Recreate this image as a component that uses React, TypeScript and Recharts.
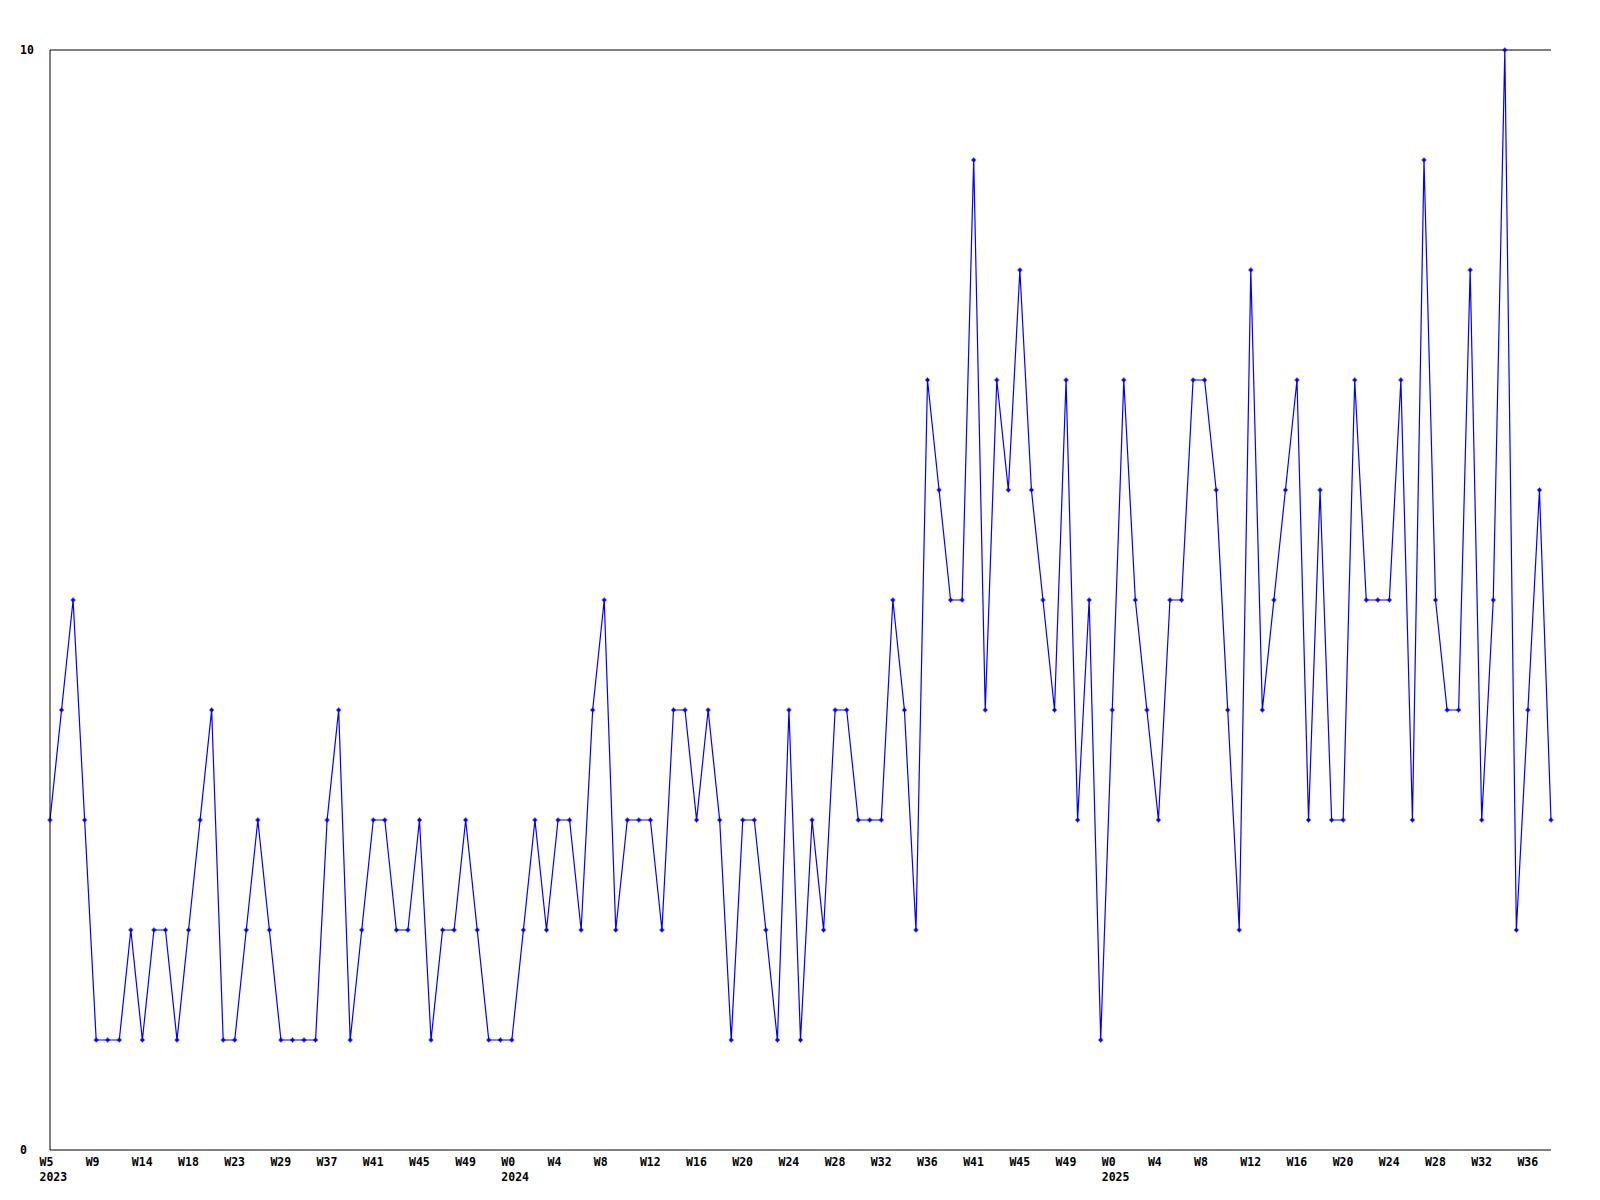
import React from "react";
import { LineChart, Line, XAxis, YAxis, ReferenceLine } from "recharts";

// week labels per year (gaps in 2023 are real, the weekly export skipped some weeks)
const weeks2023 = [
  "W5", "W6", "W7", "W8", "W9", "W10", "W11", "W13", "W14", "W15",
  "W16", "W17", "W18", "W19", "W20", "W21", "W23", "W24", "W26", "W27",
  "W29", "W31", "W33", "W35", "W37", "W38", "W39", "W40", "W41", "W42",
  "W43", "W44", "W45", "W46", "W47", "W48", "W49", "W50", "W51", "W52",
];
const weeks2024 = [
  "W0", "W1", "W2", "W3", "W4", "W5", "W6", "W7", "W8", "W9",
  "W10", "W11", "W12", "W13", "W14", "W15", "W16", "W17", "W18", "W19",
  "W20", "W21", "W22", "W23", "W24", "W25", "W26", "W27", "W28", "W29",
  "W30", "W31", "W32", "W33", "W34", "W35", "W36", "W37", "W38", "W40",
  "W41", "W42", "W43", "W44", "W45", "W46", "W47", "W48", "W49", "W50",
  "W51", "W52",
];
const weeks2025 = [
  "W0", "W1", "W2", "W3", "W4", "W5", "W6", "W7", "W8", "W9",
  "W10", "W11", "W12", "W13", "W14", "W15", "W16", "W17", "W18", "W19",
  "W20", "W21", "W22", "W23", "W24", "W25", "W26", "W27", "W28", "W29",
  "W30", "W31", "W32", "W33", "W34", "W35", "W36", "W37", "W38",
];

const values2023 = [
  3, 4, 5, 3, 1, 1, 1, 2, 1, 2, 2, 1, 2, 3, 4, 1, 1, 2, 3, 2,
  1, 1, 1, 1, 3, 4, 1, 2, 3, 3, 2, 2, 3, 1, 2, 2, 3, 2, 1, 1,
];
const values2024 = [
  1, 2, 3, 2, 3, 3, 2, 4, 5, 2, 3, 3, 3, 2, 4, 4, 3, 4, 3, 1,
  3, 3, 2, 1, 4, 1, 3, 2, 4, 4, 3, 3, 3, 5, 4, 2, 7, 6, 5, 5,
  9, 4, 7, 6, 8, 6, 5, 4, 7, 3, 5, 1,
];
const values2025 = [
  4, 7, 5, 4, 3, 5, 5, 7, 7, 6, 4, 2, 8, 4, 5, 6, 7, 3, 6, 3,
  3, 7, 5, 5, 5, 7, 3, 9, 5, 4, 4, 8, 3, 5, 10, 2, 4, 6, 3,
];

const yTicks = [0, 10];

const years: [string, string[], number[]][] = [
  ["2023", weeks2023, values2023],
  ["2024", weeks2024, values2024],
  ["2025", weeks2025, values2025],
];

const data = years.flatMap(([year, weeks, vals]) =>
  weeks.map((w, i) => ({ key: `${year}-${w}`, year, week: w, first: i === 0, value: vals[i] }))
);
const byKey = new Map(data.map((d) => [d.key, d]));

const FONT = "'DejaVu Sans Mono', monospace";
const BLUE = "#0000ff";

const WeekTick = (props: any) => {
  const { x, y, payload } = props;
  const row = byKey.get(payload.value);
  if (!row) return null;
  return (
    <g>
      <text x={x - 10.5} y={y + 16} fontFamily={FONT} fontWeight="bold" fontSize={11.5} fill="#000" textAnchor="start">
        {row.week}
      </text>
      {row.first && (
        <text x={x - 10.5} y={y + 31} fontFamily={FONT} fontWeight="bold" fontSize={11.5} fill="#000" textAnchor="start">
          {row.year}
        </text>
      )}
    </g>
  );
};

const ValueTick = (props: any) => {
  const { x, y, payload } = props;
  return (
    <text x={x - 30} y={y + 4} fontFamily={FONT} fontWeight="bold" fontSize={11.5} fill="#000" textAnchor="start">
      {payload.value}
    </text>
  );
};

const Marker = (props: any) => {
  const { cx, cy, index } = props;
  if (cx == null || cy == null) return <g key={index} />;
  const d =
    `M${cx - 2.5},${cy - 0.5}h5v1h-5z` +
    `M${cx - 0.5},${cy - 2.5}h1v5h-1z` +
    `M${cx - 1.5},${cy - 1.5}h3v3h-3z`;
  return <path key={index} d={d} fill={BLUE} />;
};

export default function App() {
  return (
    <div style={{ position: "absolute", left: 0, top: 0, width: 1600, height: 1200, background: "#fff" }}>
      <LineChart width={1600} height={1200} data={data} margin={{ top: 50, right: 49, left: 0, bottom: 0 }}>
        <XAxis
          dataKey="key"
          interval={3}
          height={50}
          tickLine={false}
          tickSize={0}
          tickMargin={0}
          axisLine={{ stroke: "#000" }}
          tick={<WeekTick />}
        />
        <YAxis
          type="number"
          domain={[0, 10]}
          ticks={yTicks}
          width={50}
          tickLine={false}
          tickSize={0}
          tickMargin={0}
          axisLine={{ stroke: "#000" }}
          tick={<ValueTick />}
        />
        <ReferenceLine y={10} stroke="#000" />
        <Line
          type="linear"
          dataKey="value"
          stroke={BLUE}
          strokeWidth={1.2}
          dot={Marker}
          activeDot={false}
          isAnimationActive={false}
        />
      </LineChart>
    </div>
  );
}
